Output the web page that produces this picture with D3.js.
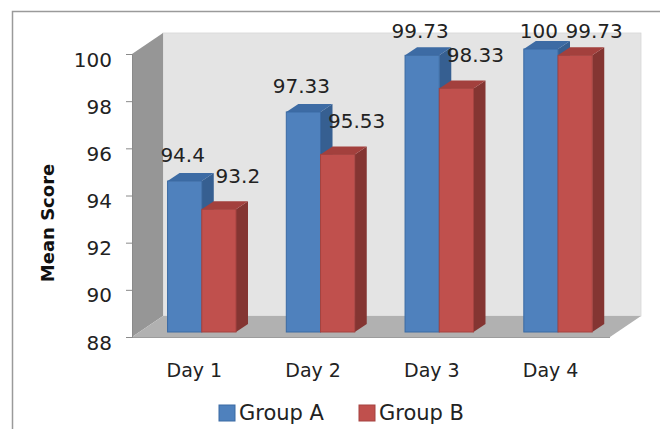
<!DOCTYPE html>
<html>
<head>
<meta charset="utf-8">
<script src="https://cdn.jsdelivr.net/npm/d3@7/dist/d3.min.js"></script>
<style>
  html, body { margin: 0; padding: 0; background: #fff; }
  svg { display: block; font-family: "DejaVu Sans", Verdana, sans-serif; }
</style>
</head>
<body>
<svg id="chart" width="665" height="429"></svg>
<script>
// Mean score per day for the two groups
const days = ["Day 1", "Day 2", "Day 3", "Day 4"];
const groups = ["Group A", "Group B"];
const groupA = [94.4, 97.33, 99.73, 100];
const groupB = [93.2, 95.53, 98.33, 99.73];
const yTicks = [88, 90, 92, 94, 96, 98, 100];

const palette = {
  "Group A": { front: "#4f81bd", top: "#3d6ba4", side: "#365f91", edge: "#3b6aa3" },
  "Group B": { front: "#c0504d", top: "#a3403d", side: "#843532", edge: "#a54340" }
};

const svg = d3.select("#chart");

// 3D frame geometry
const front = { left: 132, right: 610, bottom: 337, top: 54 };
const depth = { dx: 31, dy: -21 };          // floor / wall depth
const barShift = { dx: 7.4, dy: -5 };       // bars sit slightly behind the front edge
const barDepth = { dx: 12, dy: -8 };        // depth of each column

const y = d3.scaleLinear().domain([88, 100]).range([front.bottom, front.top]);
const xCat = d3.scaleBand().domain(days).range([135, front.right]);
const xGroup = d3.scaleBand().domain(groups).range([0, xCat.bandwidth()])
  .paddingInner(0).paddingOuter(0.735);

// chart frame
svg.append("path")
  .attr("d", "M12.5,429 V11.5 H660")
  .attr("fill", "none").attr("stroke", "#9a9a9a").attr("stroke-width", 1.5);

// back wall
svg.append("rect")
  .attr("x", front.left + depth.dx).attr("y", front.top + depth.dy)
  .attr("width", front.right - front.left)
  .attr("height", front.bottom - front.top)
  .attr("fill", "#e4e4e4").attr("stroke", "#d6d6d6").attr("stroke-width", 0.8);

// side wall
svg.append("polygon")
  .attr("points", [
    [front.left, front.top],
    [front.left + depth.dx, front.top + depth.dy],
    [front.left + depth.dx, front.bottom + depth.dy],
    [front.left, front.bottom]
  ].map(p => p.join(",")).join(" "))
  .attr("fill", "#969696");

// floor
svg.append("polygon")
  .attr("points", [
    [front.left, front.bottom],
    [front.right, front.bottom],
    [front.right + depth.dx, front.bottom + depth.dy],
    [front.left + depth.dx, front.bottom + depth.dy]
  ].map(p => p.join(",")).join(" "))
  .attr("fill", "#b1b1b1");

svg.append("line")
  .attr("x1", front.left).attr("x2", front.right)
  .attr("y1", front.bottom + 0.5).attr("y2", front.bottom + 0.5)
  .attr("stroke", "#9c9c9c").attr("stroke-width", 1.2);

// value axis
const yAxis = svg.append("g")
  .attr("transform", `translate(${front.left},0)`)
  .call(d3.axisLeft(y).tickValues(yTicks).tickSize(6).tickPadding(14).tickFormat(d3.format("d")));
yAxis.select(".domain").attr("stroke", "#8a8a8a");
yAxis.selectAll(".tick line").attr("stroke", "#8a8a8a");
yAxis.selectAll(".tick text")
  .attr("font-size", 20).attr("fill", "#222")
  .attr("font-family", "DejaVu Sans, Verdana, sans-serif")
  .attr("dy", "0.6em");

// axis title
svg.append("text")
  .attr("transform", "translate(54,223) rotate(-90)")
  .attr("text-anchor", "middle")
  .attr("font-size", 18).attr("font-weight", "bold").attr("fill", "#111")
  .text("Mean Score");

// category labels
svg.append("g").selectAll("text")
  .data(days).join("text")
  .attr("x", d => xCat(d) + xCat.bandwidth() / 2)
  .attr("y", 377)
  .attr("text-anchor", "middle")
  .attr("font-size", 19).attr("fill", "#222")
  .text(d => d);

// columns
const rows = days.map((d, i) => ({ day: d, vals: [
  { group: "Group A", value: groupA[i] },
  { group: "Group B", value: groupB[i] }
]}));

const yBar = v => y(v) + barShift.dy;
const baseY = yBar(88);

const cols = svg.append("g");
rows.forEach(r => {
  r.vals.forEach(v => {
    const c = palette[v.group];
    const x0 = xCat(r.day) + xGroup(v.group) + barShift.dx;
    const x1 = x0 + xGroup.bandwidth();
    const yt = yBar(v.value);
    const g = cols.append("g");
    // right side face
    g.append("polygon")
      .attr("points", [[x1, yt], [x1 + barDepth.dx, yt + barDepth.dy],
        [x1 + barDepth.dx, baseY + barDepth.dy], [x1, baseY]].map(p => p.join(",")).join(" "))
      .attr("fill", c.side);
    // top face
    g.append("polygon")
      .attr("points", [[x0, yt], [x1, yt], [x1 + barDepth.dx, yt + barDepth.dy],
        [x0 + barDepth.dx, yt + barDepth.dy]].map(p => p.join(",")).join(" "))
      .attr("fill", c.top);
    // front face
    g.append("rect")
      .attr("x", x0).attr("y", yt)
      .attr("width", x1 - x0).attr("height", baseY - yt)
      .attr("fill", c.front)
      .attr("stroke", c.edge).attr("stroke-width", 1);
  });
});

// value labels; kept inside the plot area at the top
const labelTop = 38;
const labelOffset = { "Group A": { dx: -2, dy: -19 }, "Group B": { dx: 19, dy: -26 } };
const labels = svg.append("g");
rows.forEach(r => {
  r.vals.forEach(v => {
    const o = labelOffset[v.group];
    const cx = xCat(r.day) + xGroup(v.group) + barShift.dx + xGroup.bandwidth() / 2;
    labels.append("text")
      .attr("x", cx + o.dx)
      .attr("y", Math.max(yBar(v.value) + o.dy, labelTop))
      .attr("text-anchor", "middle")
      .attr("font-size", 20).attr("fill", "#222")
      .text(String(v.value));
  });
});

// legend
const legend = svg.append("g");
const legendX = [219, 359];
groups.forEach((gName, i) => {
  legend.append("rect")
    .attr("x", legendX[i]).attr("y", 405)
    .attr("width", 16).attr("height", 16)
    .attr("fill", palette[gName].front)
    .attr("stroke", palette[gName].edge).attr("stroke-width", 1);
  legend.append("text")
    .attr("x", legendX[i] + 20).attr("y", 420)
    .attr("font-size", 21).attr("fill", "#222")
    .text(gName);
});
</script>
</body>
</html>
